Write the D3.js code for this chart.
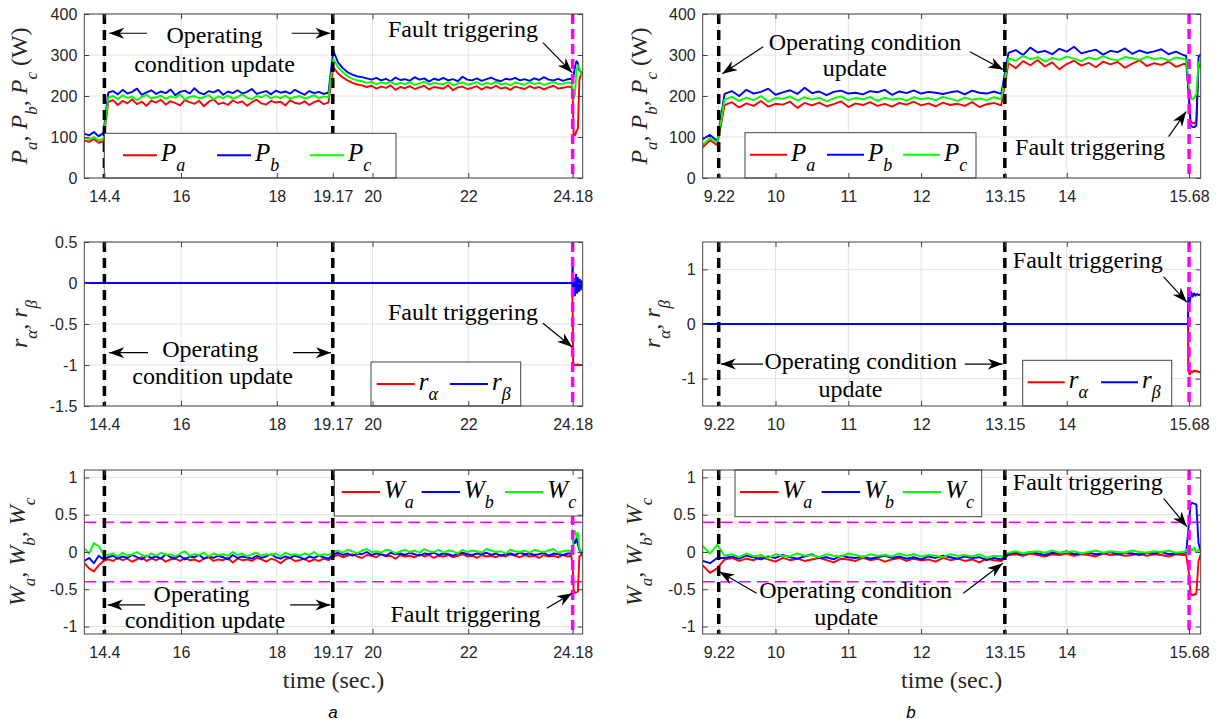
<!DOCTYPE html>
<html lang="en">
<head>
<meta charset="UTF-8">
<title>fault triggering</title>
<script src="https://cdn.jsdelivr.net/npm/d3@7"></script>
<style>
  body { margin: 0; background: #fff; }
  svg text { white-space: pre; }
</style>
</head>
<body>
<div id="root"></div>
<script>
var width = 1224
var height = 724

// ---- time stamps (sec.) ----
var tLeft = d3.range(102).map(function(i){ return 13.98 + i * 0.1 })
              .concat([24.15, 24.18, 24.2, 24.23, 24.26, 24.29, 24.32, 24.36, 24.39])
var tRight = d3.range(67).map(function(i){ return 9 + i * 0.1 })
              .concat([15.64, 15.68, 15.7, 15.72, 15.75, 15.78, 15.81, 15.84])
var tResLeft = [13.98, 24.17, 24.18, 24.19, 24.21, 24.23, 24.25, 24.27, 24.29, 24.31, 24.33, 24.35, 24.37, 24.39]
var tResRight = [9, 15.665, 15.67, 15.69, 15.71, 15.73, 15.75, 15.77, 15.79, 15.81, 15.84]

var ticksLeft = [14.4, 16, 18, 19.17, 20, 22, 24.18]
var ticksRight = [9.22, 10, 11, 12, 13.15, 14, 15.68]
var updatesLeft = [14.4, 19.17]
var updatesRight = [9.22, 13.15]
var faultLeft = 24.18
var faultRight = 15.68
var wLimits = [-0.4, 0.4]

// ---- (a) powers ----
var paLeft = [92, 88, 95, 86, 90,
  185, 190, 178, 188, 182, 192, 180, 186, 176, 189,
  184, 191, 179, 187, 183, 177, 190, 185, 181, 188,
  175, 186, 192, 180, 184, 178, 189, 183, 187, 176,
  185, 191, 182, 179, 188, 184, 186, 177, 190, 183,
  181, 187, 178, 185, 189, 180, 184,
  270, 255, 245, 238, 232, 228, 226, 222, 225, 218,
  223, 220, 226, 215, 222, 219, 224, 217, 221, 225,
  216, 222, 220, 218, 226, 214, 221, 223, 217, 220,
  224, 216, 222, 219, 225, 218, 221, 215, 223, 220,
  217, 224, 219, 222, 216, 221, 225, 218, 220, 223,
  222, 212, 110, 104, 115, 120, 240, 255, 250]
var pbLeft = [108, 104, 112, 102, 110,
  208, 212, 204, 215, 206, 210, 218, 203, 209, 214,
  205, 211, 207, 216, 202, 210, 213, 206, 219, 208,
  204, 212, 209, 215, 203, 211, 207, 214, 206, 210,
  217, 205, 209, 212, 204, 213, 208, 211, 206, 215,
  209, 203, 212, 207, 210, 205, 208,
  310, 282, 268, 258, 252, 248, 246, 243, 240, 244,
  238, 242, 236, 245, 239, 241, 237, 246, 240, 243,
  235, 242, 239, 244, 238, 241, 236, 247, 240, 238,
  243, 237, 241, 245, 239, 236, 242, 240, 244, 238,
  241, 237, 243, 239, 246, 240, 238, 242, 237, 241,
  242, 236, 250, 272, 285, 280, 262, 258, 254]
var pcLeft = [98, 94, 100, 92, 96,
  196, 200, 192, 202, 195, 199, 190, 198, 203, 194,
  197, 201, 193, 199, 196, 204, 191, 198, 200, 194,
  197, 202, 192, 199, 195, 201, 193, 198, 204, 196,
  192, 200, 197, 203, 194, 199, 195, 201, 193, 198,
  200, 194, 197, 202, 195, 199, 196,
  290, 270, 258, 248, 242, 238, 236, 232, 234, 229,
  233, 230, 235, 228, 232, 229, 234, 227, 231, 235,
  228, 232, 230, 229, 234, 226, 231, 233, 228, 230,
  234, 227, 232, 229, 235, 228, 231, 226, 233, 230,
  228, 234, 229, 232, 227, 231, 235, 229, 230, 233,
  232, 218, 192, 205, 262, 275, 268, 252, 248]

// ---- (a) residuals ----
var raLeft = [0, 0, -0.3, -0.98, -1, -1, -1, -1, -0.99, -1, -1, -1, -1, -1]
var rbLeft = [0, 0, 0.3, -0.12, 0.05, -0.15, 0.1, -0.12, 0.06, -0.1, 0.04, -0.08, 0.02, -0.05]

// ---- (a) indicators ----
var waLeft = [-.15, -.22, -.26, -.18, -.12,
  -.10, -.12, -.08, -.11, -.09, -.13, -.10, -.07, -.12, -.09,
  -.11, -.08, -.13, -.10, -.09, -.12, -.08, -.11, -.10, -.13,
  -.09, -.07, -.12, -.10, -.11, -.08, -.14, -.09, -.11, -.10,
  -.12, -.08, -.10, -.13, -.09, -.11, -.15, -.10, -.08, -.12,
  -.11, -.09, -.13, -.10, -.12, -.09, -.11,
  -.06, -.04, -.07, -.05, -.03, -.06, -.08, -.04, -.05, -.07,
  -.03, -.06, -.05, -.09, -.04, -.06, -.05, -.07, -.03, -.06,
  -.04, -.08, -.05, -.06, -.04, -.07, -.05, -.03, -.06, -.05,
  -.08, -.04, -.06, -.05, -.07, -.04, -.06, -.03, -.05, -.07,
  -.04, -.06, -.05, -.08, -.04, -.06, -.05, -.07, -.04, -.06,
  -.05, -.2, -.5, -.55, -.54, -.53, -.06, -.04, -.05]
var wbLeft = [-.12, -.08, -.15, -.05, -.10,
  -.07, -.05, -.09, -.06, -.08, -.04, -.07, -.10, -.05, -.08,
  -.06, -.09, -.03, -.07, -.08, -.05, -.10, -.06, -.07, -.04,
  -.09, -.06, -.08, -.05, -.07, -.10, -.04, -.08, -.06, -.07,
  -.09, -.05, -.08, -.06, -.03, -.07, -.09, -.06, -.08, -.05,
  -.07, -.10, -.06, -.08, -.05, -.07, -.09,
  -.03, -.01, -.04, -.02, -.05, -.02, -.03, 0, -.04, -.02,
  -.03, -.05, -.01, -.03, -.02, -.04, -.01, -.03, -.05, -.02,
  -.03, -.01, -.04, -.02, -.03, -.05, -.02, -.01, -.03, -.04,
  -.02, -.03, -.01, -.04, -.02, -.05, -.03, -.02, -.04, -.01,
  -.03, -.02, -.04, -.03, -.01, -.05, -.02, -.03, -.04, -.02,
  -.02, 0, .15, .12, .18, .1, .03, -.02, 0]
var wcLeft = [.05, -.02, .12, .08, -.03,
  -.04, -.02, -.06, -.01, -.05, -.03, 0, -.04, -.06, -.02,
  -.05, -.01, -.04, -.03, -.06, -.02, .01, -.05, -.03, -.04,
  -.01, -.06, -.02, -.04, -.03, -.05, 0, -.04, -.02, -.06,
  -.03, -.01, -.05, -.03, -.04, -.02, -.06, -.01, -.04, -.03,
  -.05, -.02, -.04, 0, -.05, -.03, -.04,
  0, .02, -.01, .03, .01, -.02, .02, .04, 0, .01,
  -.01, .03, .02, -.02, .01, .03, 0, .02, -.01, .04,
  .01, 0, .03, -.01, .02, .01, -.02, .03, 0, .02,
  .01, -.01, .04, .02, 0, .01, -.02, .03, .01, 0,
  .02, -.01, .03, .01, 0, .02, .04, -.01, .01, .02,
  .01, .03, .25, .28, .2, .26, .05, 0, .02]

// ---- (b) powers ----
var paRight = [75, 92, 80,
  178, 185, 172, 182, 176, 188, 174, 181, 179, 186,
  171, 183, 177, 184, 175, 180, 187, 173, 182, 178,
  185, 176, 181, 174, 183, 179, 186, 177, 182, 175,
  184, 178, 181, 176, 185, 173, 180, 183, 177,
  280, 268, 285, 275, 288, 272, 282, 265, 278, 286,
  274, 281, 270, 284, 277, 283, 269, 279, 287, 273,
  280, 276, 284, 271, 278,
  278, 200, 140, 135, 133, 138, 270, 280]
var pbRight = [95, 105, 90,
  205, 212, 200, 215, 206, 210, 218, 203, 209, 214,
  205, 220, 207, 211, 202, 210, 213, 206, 208, 204,
  212, 209, 215, 203, 211, 207, 214, 206, 210, 208,
  205, 209, 212, 204, 213, 208, 206, 211, 205,
  305, 312, 300, 318, 306, 310, 302, 315, 308, 320,
  304, 309, 313, 301, 310, 307, 316, 303, 311, 305,
  309, 314, 302, 308, 300,
  298, 190, 130, 125, 124, 128, 295, 302]
var pcRight = [80, 98, 86,
  192, 198, 188, 196, 190, 200, 186, 195, 193, 199,
  189, 197, 191, 196, 187, 194, 199, 190, 195, 192,
  198, 188, 196, 191, 194, 189, 197, 192, 195, 190,
  198, 193, 188, 196, 191, 194, 190, 197, 192,
  292, 286, 298, 290, 295, 284, 293, 288, 296, 291,
  285, 294, 289, 297, 290, 287, 295, 292, 288, 296,
  290, 293, 286, 294, 291,
  288, 220, 205, 192, 195, 205, 280, 290]

// ---- (b) residuals ----
var raRight = [0, 0, -0.85, -0.92, -0.86, -0.88, -0.85, -0.87, -0.86, -0.88, -0.87]
var rbRight = [0, 0, 0.65, 0.4, 0.58, 0.5, 0.56, 0.52, 0.55, 0.53, 0.54]

// ---- (b) indicators ----
var waRight = [-.18, -.28, -.22,
  -.10, -.08, -.12, -.09, -.11, -.07, -.10, -.13, -.08, -.11,
  -.09, -.12, -.10, -.08, -.11, -.14, -.09, -.10, -.12, -.08,
  -.11, -.09, -.13, -.10, -.08, -.12, -.09, -.11, -.10, -.13,
  -.08, -.11, -.09, -.12, -.10, -.14, -.09, -.11, -.12,
  -.04, -.03, -.05, -.02, -.04, -.06, -.03, -.04, -.02, -.05,
  -.03, -.04, -.06, -.02, -.04, -.03, -.05, -.04, -.02, -.05,
  -.03, -.04, -.06, -.03, -.04,
  -.04, -.3, -.55, -.58, -.57, -.56, -.12, -.03]
var wbRight = [-.12, -.15, -.08,
  -.08, -.06, -.09, -.05, -.07, -.10, -.06, -.08, -.04, -.07,
  -.09, -.06, -.03, -.08, -.07, -.10, -.05, -.07, -.08, -.06,
  -.09, -.07, -.05, -.08, -.06, -.09, -.07, -.10, -.06, -.08,
  -.05, -.07, -.09, -.06, -.08, -.07, -.11, -.08, -.10,
  -.02, -.01, -.03, 0, -.02, -.04, -.01, -.02, .01, -.03,
  -.02, -.01, -.03, -.02, 0, -.03, -.01, -.02, -.04, -.01,
  -.02, 0, -.03, -.02, -.01,
  -.01, .4, .63, .66, .65, .64, .12, 0]
var wcRight = [.08, -.02, .1,
  -.05, -.03, -.07, -.02, -.06, -.04, -.08, -.03, -.05, -.06,
  -.02, -.05, -.04, -.07, -.03, -.05, -.06, -.02, -.04, -.07,
  -.03, -.05, -.04, -.06, -.02, -.05, -.03, -.06, -.04, -.05,
  -.07, -.03, -.05, -.04, -.06, -.03, -.08, -.05, -.06,
  -.01, .01, -.02, 0, .01, -.01, .02, -.01, 0, .01,
  -.02, 0, .02, -.01, .01, 0, -.01, .02, 0, -.01,
  .01, 0, .02, -.01, 0,
  .01, .08, .05, .02, .06, 0, .03, 0]

var RED = '#ff0000', BLUE = '#0000ff', GREEN = '#00ff00', MAG = '#ff00ff'
var SERIF = "'Liberation Serif', 'Times New Roman', serif"
var SANS = "'Liberation Sans', Arial, sans-serif"
var AX = '#444'

var svg = d3.select('#root').append('svg')
    .attr('width', width)
    .attr('height', height)
var defs = svg.append('defs')
defs.append('marker')
    .attr('id', 'head')
    .attr('markerUnits', 'userSpaceOnUse')
    .attr('markerWidth', 16).attr('markerHeight', 12)
    .attr('refX', 15).attr('refY', 5.5)
    .attr('orient', 'auto')
  .append('path')
    .attr('d', 'M0,0L15,5.5L0,11L4.5,5.5Z')
    .attr('fill', '#000')

// text with italic letters and subscripts, parts = [[text, style]] style: 'i' italic, 's' subscript
function rich(text, parts, size) {
    var sub = Math.round(size * 0.7), shift = size * 0.4, down = 0
    parts.forEach(function(p) {
        var want = p[1] === 's' ? shift : 0
        text.append('tspan')
            .attr('dy', want - down)
            .attr('font-size', p[1] === 's' ? sub : size)
            .attr('font-style', p[1] ? 'italic' : 'normal')
            .text(p[0])
        down = want
    })
}

var cols = {
    left: { x0: 84.3, x1: 582.7, domain: [13.98, 24.39], ticks: ticksLeft, updates: updatesLeft, fault: faultLeft },
    right: { x0: 702.7, x1: 1200.7, domain: [9, 15.84], ticks: ticksRight, updates: updatesRight, fault: faultRight }
}
var rows = [{ y0: 14, y1: 178 }, { y0: 242, y1: 406 }, { y0: 470, y1: 634 }]

var clipCount = 0
function panel(col, row, o) {
    var x = d3.scaleLinear().domain(col.domain).range([col.x0, col.x1])
    var y = d3.scaleLinear().domain(o.yDomain).range([row.y1, row.y0])
    var g = svg.append('g')
    var id = 'clip' + (clipCount++)
    defs.append('clipPath').attr('id', id)
      .append('rect')
        .attr('x', col.x0).attr('y', row.y0)
        .attr('width', col.x1 - col.x0).attr('height', row.y1 - row.y0)

    // grid
    g.append('g').selectAll('line').data(col.ticks).enter().append('line')
        .attr('x1', x).attr('x2', x)
        .attr('y1', row.y0).attr('y2', row.y1)
        .attr('stroke', '#e2e2e2')
    g.append('g').selectAll('line').data(o.yTicks).enter().append('line')
        .attr('y1', y).attr('y2', y)
        .attr('x1', col.x0).attr('x2', col.x1)
        .attr('stroke', '#e2e2e2')

    var plot = g.append('g').attr('clip-path', 'url(#' + id + ')')
    if (o.limits) {
        plot.selectAll('.lim').data(o.limits).enter().append('line')
            .attr('x1', col.x0).attr('x2', col.x1)
            .attr('y1', y).attr('y2', y)
            .attr('stroke', MAG).attr('stroke-width', 1.6)
            .attr('stroke-dasharray', '12,6')
    }
    o.series.forEach(function(s) {
        var line = d3.line()
            .x(function(d, i) { return x(s.t[i]) })
            .y(function(d) { return y(d) })
        plot.append('path')
            .datum(s.v)
            .attr('d', line)
            .attr('fill', 'none')
            .attr('stroke', s.color)
            .attr('stroke-width', o.lineWidth)
            .attr('stroke-linejoin', 'round')
    })
    // operating condition updates and fault instant
    plot.selectAll('.upd').data(col.updates).enter().append('line')
        .attr('x1', x).attr('x2', x)
        .attr('y1', row.y0).attr('y2', row.y1)
        .attr('stroke', '#000').attr('stroke-width', 3.5)
        .attr('stroke-dasharray', '10,6')
    plot.append('line')
        .attr('x1', x(col.fault)).attr('x2', x(col.fault))
        .attr('y1', row.y0).attr('y2', row.y1)
        .attr('stroke', MAG).attr('stroke-width', 3.5)
        .attr('stroke-dasharray', '10,5')

    // legend
    var L = o.legend
    var bx = col.x0 + L.left, by = row.y0 + L.top
    var lg = g.append('g')
    lg.append('rect')
        .attr('x', bx).attr('y', by)
        .attr('width', L.w).attr('height', L.h)
        .attr('fill', '#fff').attr('stroke', AX)
    o.series.forEach(function(s, i) {
        var lx = bx + L.items[i]
        lg.append('line')
            .attr('x1', lx).attr('x2', lx + L.len)
            .attr('y1', by + 22).attr('y2', by + 22)
            .attr('stroke', s.color).attr('stroke-width', 2)
        var t = lg.append('text')
            .attr('x', lx + L.len + 4).attr('y', by + 28)
            .attr('font-family', SERIF).attr('fill', '#000')
        rich(t, s.name, 25)
    })

    // annotations
    o.notes.forEach(function(n) {
        g.append('text')
            .attr('x', x(n.t)).attr('y', y(n.v))
            .attr('text-anchor', 'middle')
            .attr('font-family', SERIF).attr('font-size', 24)
            .attr('fill', '#000')
            .text(n.s)
    })
    o.arrows.forEach(function(a) {
        g.append('line')
            .attr('x1', x(a[0])).attr('y1', y(a[1]))
            .attr('x2', x(a[2])).attr('y2', y(a[3]))
            .attr('stroke', '#000').attr('stroke-width', 1.2)
            .attr('marker-end', 'url(#head)')
    })

    // axes (inward ticks, MATLAB box)
    function style(a) {
        a.select('.domain').remove()
        a.selectAll('line').attr('stroke', AX)
        a.selectAll('text').attr('font-family', SANS).attr('font-size', 16).attr('fill', '#262626')
    }
    var fmt = function(d) { return String(d) }
    g.append('g').attr('transform', 'translate(0,' + row.y1 + ')')
        .call(d3.axisBottom(x).tickValues(col.ticks).tickFormat(fmt).tickSizeInner(-5).tickSizeOuter(0).tickPadding(13))
        .call(style)
    g.append('g').attr('transform', 'translate(0,' + row.y0 + ')')
        .call(d3.axisTop(x).tickValues(col.ticks).tickFormat('').tickSizeInner(-5).tickSizeOuter(0))
        .call(style)
    g.append('g').attr('transform', 'translate(' + col.x0 + ',0)')
        .call(d3.axisLeft(y).tickValues(o.yTicks).tickFormat(fmt).tickSizeInner(-5).tickSizeOuter(0).tickPadding(7))
        .call(style)
    g.append('g').attr('transform', 'translate(' + col.x1 + ',0)')
        .call(d3.axisRight(y).tickValues(o.yTicks).tickFormat('').tickSizeInner(-5).tickSizeOuter(0))
        .call(style)
    g.append('rect')
        .attr('x', col.x0).attr('y', row.y0)
        .attr('width', col.x1 - col.x0).attr('height', row.y1 - row.y0)
        .attr('fill', 'none').attr('stroke', AX)

    // y label
    var yl = g.append('text')
        .attr('transform', 'translate(' + o.labelX + ',' + (row.y0 + row.y1) / 2 + ') rotate(-90)')
        .attr('text-anchor', 'middle')
        .attr('font-family', SERIF).attr('fill', '#262626')
    rich(yl, o.label, 24)
}

function sub(letter, s) { return [[letter, 'i'], [s, 's']] }
var labelP = [['P','i'],['a','s'],[', ',''],['P','i'],['b','s'],[', ',''],['P','i'],['c','s'],[' (W)','']]
var labelR = [['r','i'],['α','s'],[', ',''],['r','i'],['β','s']]
var labelW = [['W','i'],['a','s'],[', ',''],['W','i'],['b','s'],[', ',''],['W','i'],['c','s']]

// ---------- (a) ----------
panel(cols.left, rows[0], {
    yDomain: [0, 400], yTicks: [0, 100, 200, 300, 400], lineWidth: 1.9,
    series: [
        { t: tLeft, v: paLeft, color: RED, name: sub('P', 'a') },
        { t: tLeft, v: pbLeft, color: BLUE, name: sub('P', 'b') },
        { t: tLeft, v: pcLeft, color: GREEN, name: sub('P', 'c') }
    ],
    legend: { left: 20, top: 119.3, w: 291.7, h: 44.7, items: [18.7, 112.7, 205.7], len: 34 },
    notes: [
        { t: 16.7, v: 329, s: 'Operating' },
        { t: 16.7, v: 259, s: 'condition update' },
        { t: 21.89, v: 343, s: 'Fault triggering' }
    ],
    arrows: [[15.29, 353, 14.5, 353], [18.31, 353, 19.12, 353], [23.56, 330, 24.17, 257]],
    label: labelP, labelX: 27
})
panel(cols.left, rows[1], {
    yDomain: [-1.5, 0.5], yTicks: [-1.5, -1, -0.5, 0, 0.5], lineWidth: 2,
    series: [
        { t: tResLeft, v: raLeft, color: RED, name: sub('r', 'α') },
        { t: tResLeft, v: rbLeft, color: BLUE, name: sub('r', 'β') }
    ],
    legend: { left: 286.7, top: 120, w: 149.7, h: 44, items: [5.7, 79], len: 38 },
    notes: [
        { t: 16.61, v: -0.9, s: 'Operating' },
        { t: 16.66, v: -1.23, s: 'condition update' },
        { t: 21.89, v: -0.45, s: 'Fault triggering' }
    ],
    arrows: [[15.31, -0.85, 14.5, -0.85], [18.34, -0.85, 19.13, -0.85], [23.56, -0.49, 24.17, -0.78]],
    label: labelR, labelX: 27
})
panel(cols.left, rows[2], {
    yDomain: [-1.1, 1.1], yTicks: [-1, -0.5, 0, 0.5, 1], lineWidth: 1.9,
    limits: wLimits,
    series: [
        { t: tLeft, v: waLeft, color: RED, name: sub('W', 'a') },
        { t: tLeft, v: wbLeft, color: BLUE, name: sub('W', 'b') },
        { t: tLeft, v: wcLeft, color: GREEN, name: sub('W', 'c') }
    ],
    legend: { left: 250, top: 0, w: 248.4, h: 46, items: [7.4, 87.4, 170.7], len: 38.3 },
    notes: [
        { t: 16.43, v: -0.667, s: 'Operating' },
        { t: 16.5, v: -1.023, s: 'condition update' },
        { t: 21.94, v: -0.935, s: 'Fault triggering' }
    ],
    arrows: [[15.25, -0.71, 14.47, -0.71], [18.28, -0.71, 19.12, -0.71], [23.64, -0.755, 24.17, -0.554]],
    label: labelW, labelX: 25
})

// ---------- (b) ----------
panel(cols.right, rows[0], {
    yDomain: [0, 400], yTicks: [0, 100, 200, 300, 400], lineWidth: 1.9,
    series: [
        { t: tRight, v: paRight, color: RED, name: sub('P', 'a') },
        { t: tRight, v: pbRight, color: BLUE, name: sub('P', 'b') },
        { t: tRight, v: pcRight, color: GREEN, name: sub('P', 'c') }
    ],
    legend: { left: 42.3, top: 118.7, w: 231, h: 45.3, items: [5, 82, 158], len: 37 },
    notes: [
        { t: 11.23, v: 312, s: 'Operating condition' },
        { t: 11.09, v: 249, s: 'update' },
        { t: 14.32, v: 57, s: 'Fault triggering' }
    ],
    arrows: [[9.83, 320, 9.27, 254], [12.67, 308, 13.13, 264], [15.4, 101, 15.64, 162]],
    label: labelP, labelX: 647
})
panel(cols.right, rows[1], {
    yDomain: [-1.5, 1.5], yTicks: [-1, 0, 1], lineWidth: 2,
    series: [
        { t: tResRight, v: raRight, color: RED, name: sub('r', 'α') },
        { t: tResRight, v: rbRight, color: BLUE, name: sub('r', 'β') }
    ],
    legend: { left: 320, top: 118.3, w: 149, h: 45.7, items: [5, 78.3], len: 37 },
    notes: [
        { t: 11.17, v: -0.825, s: 'Operating condition' },
        { t: 11.03, v: -1.33, s: 'update' },
        { t: 14.29, v: 1.016, s: 'Fault triggering' }
    ],
    arrows: [[9.83, -0.733, 9.25, -0.733], [12.6, -0.733, 13.12, -0.733], [15.33, 0.861, 15.65, 0.4]],
    label: labelR, labelX: 660
})
panel(cols.right, rows[2], {
    yDomain: [-1.1, 1.1], yTicks: [-1, -0.5, 0, 0.5, 1], lineWidth: 1.9,
    limits: wLimits,
    series: [
        { t: tRight, v: waRight, color: RED, name: sub('W', 'a') },
        { t: tRight, v: wbRight, color: BLUE, name: sub('W', 'b') },
        { t: tRight, v: wcRight, color: GREEN, name: sub('W', 'c') }
    ],
    legend: { left: 32.3, top: 0, w: 246.7, h: 46.7, items: [5, 86.7, 167.7], len: 38.5 },
    notes: [
        { t: 11.1, v: -0.621, s: 'Operating condition' },
        { t: 10.97, v: -0.979, s: 'update' },
        { t: 14.29, v: 0.832, s: 'Fault triggering' }
    ],
    arrows: [[9.74, -0.554, 9.23, -0.264], [12.58, -0.554, 13.12, -0.152], [15.33, 0.72, 15.65, 0.34]],
    label: labelW, labelX: 642
})

// x titles and sub-figure captions
;[cols.left, cols.right].forEach(function(c) {
    svg.append('text')
        .attr('x', (c.x0 + c.x1) / 2).attr('y', 688)
        .attr('text-anchor', 'middle')
        .attr('font-family', SERIF).attr('font-size', 24).attr('fill', '#262626')
        .text('time (sec.)')
})
svg.append('text')
    .attr('x', 333).attr('y', 718)
    .attr('text-anchor', 'middle')
    .attr('font-family', SANS).attr('font-size', 17).attr('font-style', 'italic')
    .text('a')
svg.append('text')
    .attr('x', 911).attr('y', 718)
    .attr('text-anchor', 'middle')
    .attr('font-family', SANS).attr('font-size', 17).attr('font-style', 'italic')
    .text('b')
</script>
</body>
</html>
